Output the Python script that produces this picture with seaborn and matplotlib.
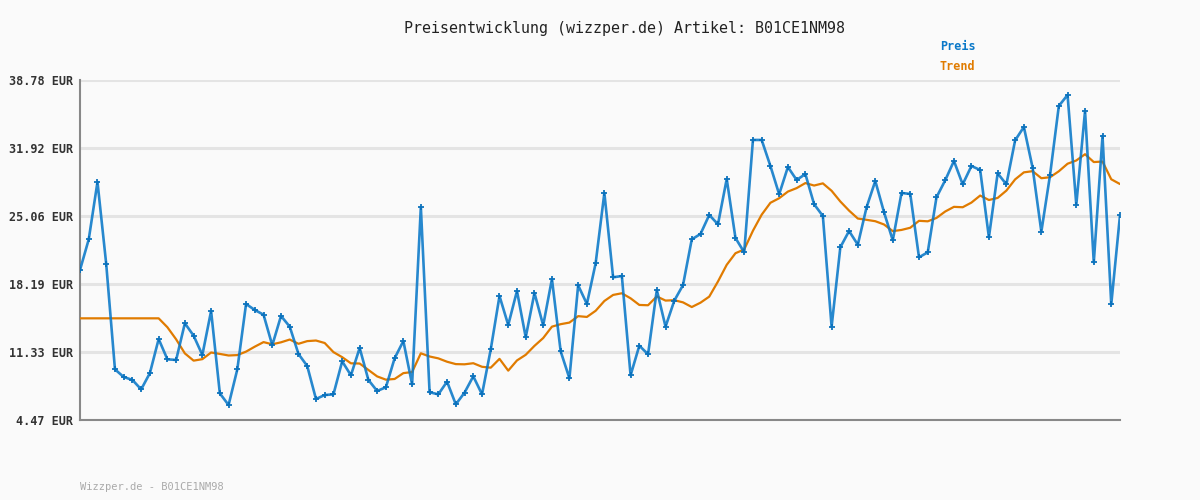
import pandas as pd
import matplotlib.pyplot as plt
import seaborn as sns

# Preisverlauf (120 Messpunkte)
preis = [19.61, 22.70, 28.49, 20.21, 9.58, 8.81, 8.51, 7.56, 9.21, 12.64,
         10.59, 10.53, 14.23, 12.98, 11.03, 15.47, 7.16, 5.98, 9.58, 16.18,
         15.57, 15.10, 12.01, 14.97, 13.89, 11.13, 9.92, 6.59, 6.99, 7.06,
         10.39, 8.98, 11.74, 8.51, 7.40, 7.77, 10.70, 12.44, 8.07, 25.96,
         7.27, 7.06, 8.34, 6.05, 7.23, 8.88, 7.06, 11.60, 16.98, 14.06,
         17.49, 12.82, 17.29, 14.02, 18.70, 11.40, 8.68, 18.06, 16.18, 20.28,
         27.38, 18.87, 19.00, 8.98, 11.97, 11.10, 17.59, 13.89, 16.51, 18.09,
         22.70, 23.24, 25.16, 24.22, 28.79, 22.84, 21.39, 32.73, 32.73, 30.10,
         27.25, 30.00, 28.69, 29.29, 26.24, 25.06, 13.89, 21.90, 23.54, 22.16,
         25.93, 28.59, 25.43, 22.60, 27.38, 27.28, 20.89, 21.39, 26.94, 28.66,
         30.61, 28.25, 30.10, 29.70, 22.91, 29.36, 28.25, 32.69, 34.04, 29.93,
         23.47, 29.22, 36.16, 37.27, 26.20, 35.65, 20.38, 33.13, 16.15, 25.13]

# Trendlinie
trend = [14.73, 14.73, 14.73, 14.73, 14.73, 14.73, 14.73, 14.73, 14.73, 14.73,
         13.83, 12.61, 11.19, 10.46, 10.61, 11.28, 11.14, 10.98, 11.02, 11.37,
         11.87, 12.33, 12.11, 12.31, 12.59, 12.16, 12.43, 12.49, 12.24, 11.32,
         10.81, 10.19, 10.17, 9.52, 8.87, 8.54, 8.61, 9.20, 9.31, 11.20,
         10.88, 10.69, 10.35, 10.11, 10.09, 10.20, 9.84, 9.75, 10.64, 9.45,
         10.48, 11.05, 11.95, 12.74, 13.89, 14.14, 14.30, 14.95, 14.87, 15.49,
         16.48, 17.09, 17.26, 16.75, 16.08, 16.05, 16.94, 16.52, 16.56, 16.34,
         15.87, 16.31, 16.92, 18.45, 20.13, 21.30, 21.68, 23.57, 25.19, 26.39,
         26.85, 27.52, 27.87, 28.38, 28.13, 28.35, 27.60, 26.52, 25.60, 24.80,
         24.67, 24.53, 24.20, 23.53, 23.65, 23.87, 24.57, 24.52, 24.86, 25.51,
         25.98, 25.94, 26.41, 27.12, 26.67, 26.88, 27.62, 28.75, 29.46, 29.58,
         28.87, 28.97, 29.57, 30.33, 30.66, 31.29, 30.50, 30.55, 28.76, 28.28]

y_ticks = [4.47, 11.33, 18.19, 25.06, 31.92, 38.78]
y_tick_labels = [f'{v:.2f} EUR' for v in y_ticks]

titel = 'Preisentwicklung (wizzper.de) Artikel: B01CE1NM98'
fusszeile = 'Wizzper.de - B01CE1NM98'

BLAU = '#0a78c8'
ORANGE = '#e07b00'
HINTERGRUND = '#fafafa'

df = pd.DataFrame({'idx': range(len(preis)), 'preis': preis, 'trend': trend})

sns.set_theme(style='white')
plt.rcParams['font.family'] = ['DejaVu Sans Mono', 'DejaVu Sans']

fig = plt.figure(figsize=(12, 5), dpi=100, facecolor=HINTERGRUND)
ax = fig.add_axes([80/1200, 80/500, 1040/1200, 340/500])
ax.set_facecolor(HINTERGRUND)

sns.lineplot(data=df, x='idx', y='trend', ax=ax, color=ORANGE, linewidth=1.6, zorder=3)
sns.lineplot(data=df, x='idx', y='preis', ax=ax, color=BLAU, linewidth=1.9, alpha=0.88,
             marker='P', markersize=3.8, markeredgewidth=0, markerfacecolor='#0870bb', zorder=4)

ax.set_xlim(0, len(preis) - 1)
ax.set_ylim(y_ticks[0], y_ticks[-1])
ax.set_yticks(y_ticks)
ax.set_yticklabels(y_tick_labels, fontsize=8.5, fontweight='bold', color='#333333')
ax.set_xticks([])
ax.set_xlabel('')
ax.set_ylabel('')
ax.tick_params(axis='y', length=0, pad=5)
ax.yaxis.grid(True, color='#e4e4e4', linewidth=2.2)
ax.set_axisbelow(True)

for side in ['top', 'right']:
    ax.spines[side].set_visible(False)
for side in ['left', 'bottom']:
    ax.spines[side].set_color('#888888')
    ax.spines[side].set_linewidth(1.5)

fig.text(624/1200, 1 - 28/500, titel, ha='center', va='center', fontsize=10.8, color='#222222')
fig.text(940/1200, 1 - 47/500, 'Preis', ha='left', va='center', fontsize=8.5,
         fontweight='bold', color=BLAU)
fig.text(940/1200, 1 - 67/500, 'Trend', ha='left', va='center', fontsize=8.5,
         fontweight='bold', color=ORANGE)
fig.text(80/1200, 1 - 487/500, fusszeile, ha='left', va='center', fontsize=7.5, color='#aaaaaa')

fig.savefig('out.png', dpi=100, facecolor=HINTERGRUND)
